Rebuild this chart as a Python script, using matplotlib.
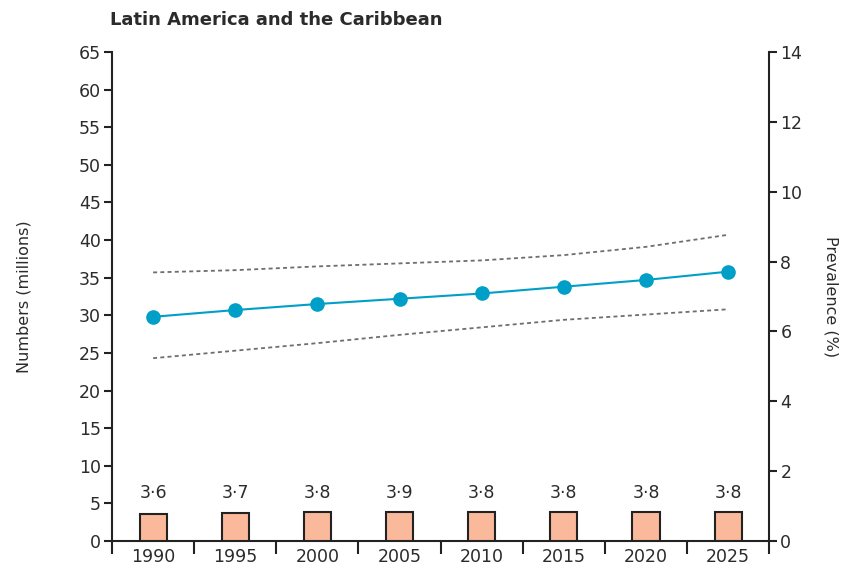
import matplotlib.pyplot as plt
import numpy as np

years = ["1990", "1995", "2000", "2005", "2010", "2015", "2020", "2025"]
bar_values = [3.6, 3.7, 3.8, 3.9, 3.8, 3.8, 3.8, 3.8]
bar_labels = ["3·6", "3·7", "3·8", "3·9", "3·8", "3·8", "3·8", "3·8"]
numbers = [29.8, 30.7, 31.5, 32.2, 32.9, 33.8, 34.7, 35.8]
upper = [35.7, 36.0, 36.5, 36.9, 37.3, 38.0, 39.1, 40.7]
lower = [24.3, 25.3, 26.3, 27.4, 28.4, 29.4, 30.1, 30.8]

txt = "#2b2b2b"
plt.rcParams['font.family'] = ['DejaVu Sans']

fig = plt.figure(figsize=(8.49, 5.68), dpi=100)
ax = fig.add_axes([0.132, 0.0475, 0.774, 0.861])
x = np.arange(len(years))

ax.bar(x, bar_values, width=0.33, color="#f9b99a", edgecolor="#222222", linewidth=1.5, zorder=3)
for xi, v, lab in zip(x, bar_values, bar_labels):
    ax.text(xi, 5.2, lab, ha='center', va='bottom', fontsize=12.5, color=txt)

ax.plot(x, upper, color="#6e6e6e", linestyle=(0, (2.2, 1.8)), linewidth=1.3)
ax.plot(x, lower, color="#6e6e6e", linestyle=(0, (2.2, 1.8)), linewidth=1.3)
ax.plot(x, numbers, color="#009fc8", linewidth=1.5, marker='o', markersize=9.5, zorder=4)

ax.set_xlim(-0.5, 7.5)
ax.set_ylim(0, 65)
ax.set_yticks(range(0, 66, 5))
ax.set_xticks(np.arange(-0.5, 8, 1))
ax.set_xticklabels([])
ax.set_xticks(x, minor=True)
ax.set_xticklabels(years, minor=True)
ax.tick_params(axis='x', which='major', direction='out', length=9, width=1.5, color="#222222")
ax.tick_params(axis='x', which='minor', length=0, pad=5, labelsize=12.5, labelcolor=txt)
ax.tick_params(axis='y', direction='out', length=6, width=1.5, color="#222222", labelsize=12.5, labelcolor=txt, pad=2)
ax.spines['top'].set_visible(False)
ax.spines['right'].set_visible(False)
for s in ['left', 'bottom']:
    ax.spines[s].set_linewidth(1.5)
    ax.spines[s].set_color("#222222")
ax.set_ylabel("Numbers (millions)", fontsize=11.5, color=txt, labelpad=34)

ax2 = ax.twinx()
ax2.set_ylim(0, 14)
ax2.set_yticks(range(0, 15, 2))
ax2.tick_params(axis='y', direction='out', length=6, width=1.5, color="#222222", labelsize=12.5, labelcolor=txt, pad=2)
for s in ['top', 'left', 'bottom']:
    ax2.spines[s].set_visible(False)
ax2.spines['right'].set_linewidth(1.5)
ax2.spines['right'].set_color("#222222")
ax2.set_ylabel("Prevalence (%)", fontsize=11.5, color=txt, rotation=270, labelpad=26)

fig.text(0.13, 0.965, "Latin America and the Caribbean", fontsize=13, fontweight='bold',
         color=txt, ha='left', va='center')

fig.savefig("out.png", dpi=100)
